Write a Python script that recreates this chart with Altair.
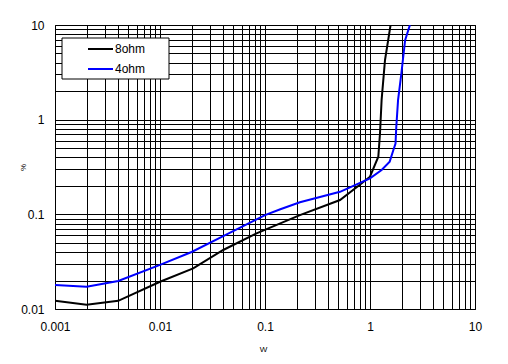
import altair as alt
import pandas as pd

# 8ohm series
x_8ohm = [0.001, 0.002, 0.004, 0.01, 0.0207, 0.040, 0.083, 0.215, 0.518, 0.80, 1.0, 1.2, 1.245, 1.29, 1.39, 1.57]
y_8ohm = [0.0122, 0.0111, 0.0122, 0.0194, 0.0269, 0.042, 0.063, 0.098, 0.1417, 0.205, 0.25, 0.406, 0.717, 1.62, 4.27, 10.0]
# 4ohm series
x_4ohm = [0.001, 0.002, 0.004, 0.01, 0.02, 0.04, 0.1, 0.14, 0.215, 0.518, 1.0, 1.29, 1.54, 1.67, 1.75, 1.78, 1.85, 1.99, 2.16, 2.40]
y_4ohm = [0.0179, 0.0172, 0.0198, 0.0292, 0.040, 0.059, 0.098, 0.113, 0.134, 0.173, 0.24, 0.294, 0.36, 0.478, 0.56, 0.84, 1.61, 3.09, 6.9, 10.0]

series_names = ["8ohm", "4ohm"]
series_colors = ["#000000", "#0000ff"]

x_tick_labels = ["0.001", "0.01", "0.1", "1", "10"]
y_tick_labels = ["0.01", "0.1", "1", "10"]

x_grid = sorted({round(d * 10 ** e, 6) for e in range(-3, 1) for d in range(1, 10)} | {10.0})
y_grid = sorted({round(d * 10 ** e, 6) for e in range(-2, 1) for d in range(1, 10)} | {10.0})


def label_expr(labels):
    expr = "''"
    for lab in reversed(labels):
        expr = f"datum.value == {lab} ? '{lab}' : " + expr
    return expr


df = pd.concat([
    pd.DataFrame({"W": x_8ohm, "pct": y_8ohm, "series": series_names[0], "order": range(len(x_8ohm))}),
    pd.DataFrame({"W": x_4ohm, "pct": y_4ohm, "series": series_names[1], "order": range(len(x_4ohm))}),
])

FONT = "Liberation Sans"

xenc = alt.X(
    "W:Q",
    scale=alt.Scale(type="log", domain=[0.001, 10], nice=False),
    axis=alt.Axis(
        values=x_grid, labelExpr=label_expr(x_tick_labels), title="W",
        grid=True, gridColor="#000000", gridOpacity=1, gridWidth=1,
        ticks=False, domain=False, labelPadding=12, labelFontSize=12,
        labelFont=FONT, labelColor="#000000", labelFlush=False,
        titleFontSize=8, titleFont=FONT, titleFontWeight="normal",
        titleX=208, titleY=40, titleBaseline="middle", titleColor="#000000",
    ),
)
yenc = alt.Y(
    "pct:Q",
    scale=alt.Scale(type="log", domain=[0.01, 10], nice=False),
    axis=alt.Axis(
        values=y_grid, labelExpr=label_expr(y_tick_labels), title="%",
        grid=True, gridColor="#000000", gridOpacity=1, gridWidth=1,
        ticks=False, domain=False, labelPadding=11, labelFontSize=12,
        labelFont=FONT, labelColor="#000000", labelFlush=False,
        titleFontSize=8, titleFont=FONT, titleFontWeight="normal",
        titleX=-32, titleY=142, titleBaseline="middle", titleAlign="center",
        titleColor="#000000",
    ),
)

lines = alt.Chart(df).mark_line(strokeWidth=2, clip=True, interpolate="linear").encode(
    x=xenc,
    y=yenc,
    color=alt.Color("series:N", scale=alt.Scale(domain=series_names, range=series_colors), legend=None),
    order="order:Q",
    detail="series:N",
)

# manual legend box
legend_df = pd.DataFrame({"series": series_names, "color": series_colors})
box = alt.Chart(pd.DataFrame({"a": [0]})).mark_rect(fill="#ffffff", stroke="#000000", strokeWidth=1).encode(
    x=alt.value(7), x2=alt.value(114), y=alt.value(13), y2=alt.value(54)
)
legend_layers = [box]
for i, (name, col) in enumerate(zip(series_names, series_colors)):
    ypos = 24 + 20 * i
    one = pd.DataFrame({"series": [name]})
    legend_layers.append(
        alt.Chart(one).mark_rule(color=col, strokeWidth=2).encode(
            x=alt.value(33), x2=alt.value(58), y=alt.value(ypos)
        )
    )
    legend_layers.append(
        alt.Chart(one).mark_text(align="left", baseline="middle", font=FONT, fontSize=12, color="#000000").encode(
            x=alt.value(60), y=alt.value(ypos), text="series:N"
        )
    )

chart = alt.layer(lines, *legend_layers).properties(
    width=420, height=284,
    autosize=alt.AutoSizeParams(type="none"),
    padding={"left": 47, "top": 17, "right": 25, "bottom": 47},
    background="#ffffff",
).configure_view(stroke="#000000", strokeWidth=1)

chart.save("out.html", embed_options={"renderer": "svg", "actions": False})
